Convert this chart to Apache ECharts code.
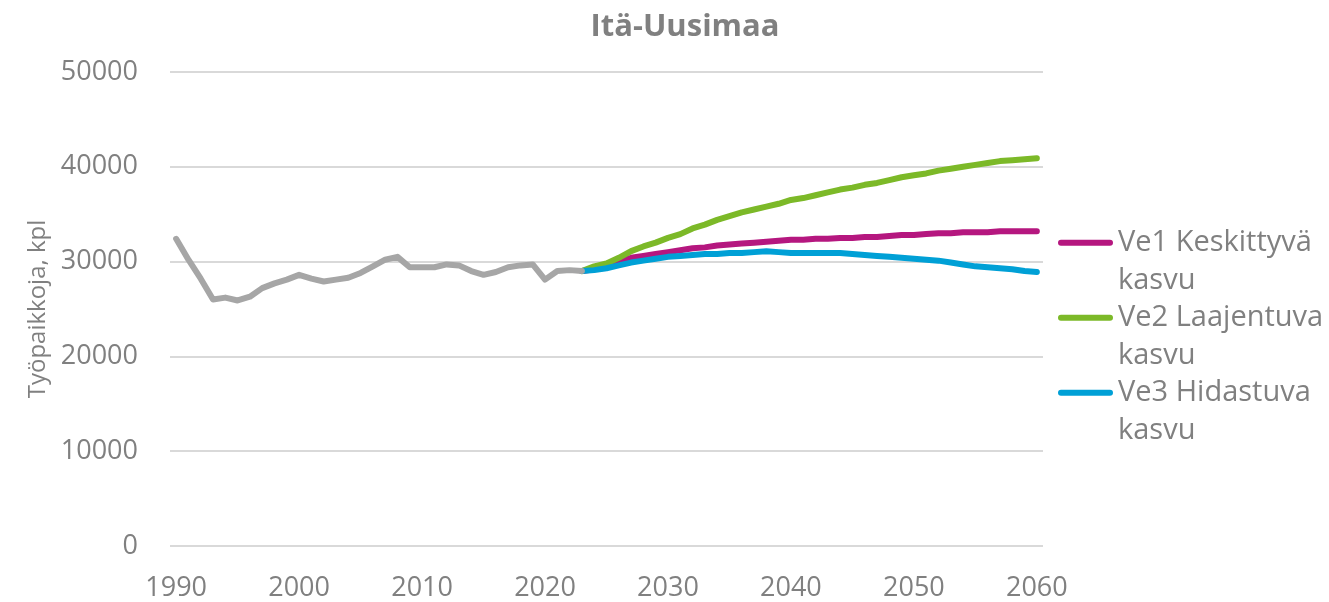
<!DOCTYPE html>
<html>
<head>
<meta charset="utf-8">
<script src="https://cdn.jsdelivr.net/npm/echarts@6/dist/echarts.min.js"></script>
<style>
html,body{margin:0;padding:0;background:#fff;}
#chart{width:1329px;height:602px;}
</style>
</head>
<body>
<div id="chart"></div>
<script>
// Years on the category axis
const years = [];
for (let y = 1990; y <= 2060; y++) years.push(String(y));

// Historical employment 1990–2023
const histYears = [1990, 2023];
const histValues = [32400, 30200, 28200, 26000, 26200, 25900, 26300, 27200, 27700, 28100,
  28600, 28200, 27900, 28100, 28300, 28800, 29500, 30200, 30500, 29400,
  29400, 29400, 29700, 29600, 29000, 28600, 28900, 29400, 29600, 29700,
  28100, 29000, 29100, 29000];

// Scenarios 2023–2060
const projStart = 2023;
const ve1Values = [29000, 29200, 29500, 30100, 30400, 30600, 30800, 31000, 31200, 31400,
  31500, 31700, 31800, 31900, 32000, 32100, 32200, 32300, 32300, 32400,
  32400, 32500, 32500, 32600, 32600, 32700, 32800, 32800, 32900, 33000,
  33000, 33100, 33100, 33100, 33200, 33200, 33200, 33200];
const ve2Values = [29000, 29500, 29800, 30400, 31100, 31600, 32000, 32500, 32900, 33500,
  33900, 34400, 34800, 35200, 35500, 35800, 36100, 36500, 36700, 37000,
  37300, 37600, 37800, 38100, 38300, 38600, 38900, 39100, 39300, 39600,
  39800, 40000, 40200, 40400, 40600, 40700, 40800, 40900];
const ve3Values = [29000, 29100, 29300, 29600, 29900, 30100, 30300, 30500, 30600, 30700,
  30800, 30800, 30900, 30900, 31000, 31100, 31000, 30900, 30900, 30900,
  30900, 30900, 30800, 30700, 30600, 30500, 30400, 30300, 30200, 30100,
  29900, 29700, 29500, 29400, 29300, 29200, 29000, 28900];

const seriesNames = ['Ve1 Keskittyvä kasvu', 'Ve2 Laajentuva kasvu', 'Ve3 Hidastuva kasvu'];
const legendLabels = ['Ve1 Keskittyvä\nkasvu', 'Ve2 Laajentuva\nkasvu', 'Ve3 Hidastuva\nkasvu'];
const yTicks = [0, 10000, 20000, 30000, 40000, 50000];

function pad(startYear, values) {
  const out = years.map(() => null);
  const off = startYear - 1990;
  values.forEach((v, i) => { out[off + i] = v; });
  return out;
}

const FONT = '"Open Sans", "Noto Sans", sans-serif';
const TXT = '#808080';

const lineBase = (name, color, data, z) => ({
  name, type: 'line', data, color, z,
  showSymbol: false, symbol: 'none', smooth: false, connectNulls: false,
  lineStyle: { width: 6, color, cap: 'round', join: 'round' },
  emphasis: { disabled: true }
});

const legendIcon = 'path://M0,0h0.01v0.01h-0.01z M3,15.75h49a3,3 0 0 1 0,6h-49a3,3 0 0 1 0,-6z M0,74.99h0.01v0.01h-0.01z';

const chart = echarts.init(document.getElementById('chart'), null, { renderer: 'canvas' });
chart.setOption({
  animation: false,
  backgroundColor: '#ffffff',
  textStyle: { fontFamily: FONT },
  title: {
    text: 'Itä-Uusimaa', left: 680, top: 7, textAlign: 'center',
    textStyle: { fontFamily: FONT, fontSize: 31, fontWeight: 'bold', color: TXT }
  },
  legend: {
    orient: 'vertical', left: 1053, top: 219,
    padding: 5,
    itemWidth: 55, itemHeight: 75, itemGap: 0,
    icon: legendIcon,
    itemStyle: { borderWidth: 0 },
    data: seriesNames,
    formatter: n => legendLabels[seriesNames.indexOf(n)],
    textStyle: { fontFamily: FONT, fontSize: 29, color: TXT, lineHeight: 37.5 },
    selectedMode: false
  },
  grid: { left: 170, right: 286, top: 72, bottom: 56, containLabel: false },
  xAxis: {
    type: 'category', data: years, boundaryGap: true,
    axisLine: { show: false }, axisTick: { show: false },
    axisLabel: { interval: 9, color: TXT, fontFamily: FONT, fontSize: 27, margin: 29 },
    splitLine: { show: false }
  },
  yAxis: {
    type: 'value', min: 0, max: 50000, interval: 10000,
    name: 'Työpaikkoja, kpl', nameLocation: 'middle', nameGap: 119, nameRotate: 90,
    nameTextStyle: { color: TXT, fontFamily: FONT, fontSize: 24 },
    axisLine: { show: false }, axisTick: { show: false },
    axisLabel: { color: TXT, fontFamily: FONT, fontSize: 27, margin: 32,
      formatter: v => yTicks.includes(v) ? String(v) : '' },
    splitLine: { lineStyle: { color: '#d9d9d9', width: 2 } }
  },
  series: [
    lineBase('Historia', '#a6a6a6', pad(histYears[0], histValues), 5),
    lineBase(seriesNames[0], '#b5177f', pad(projStart, ve1Values), 2),
    lineBase(seriesNames[1], '#7cb928', pad(projStart, ve2Values), 3),
    lineBase(seriesNames[2], '#00a0d6', pad(projStart, ve3Values), 4)
  ]
});
</script>
</body>
</html>
